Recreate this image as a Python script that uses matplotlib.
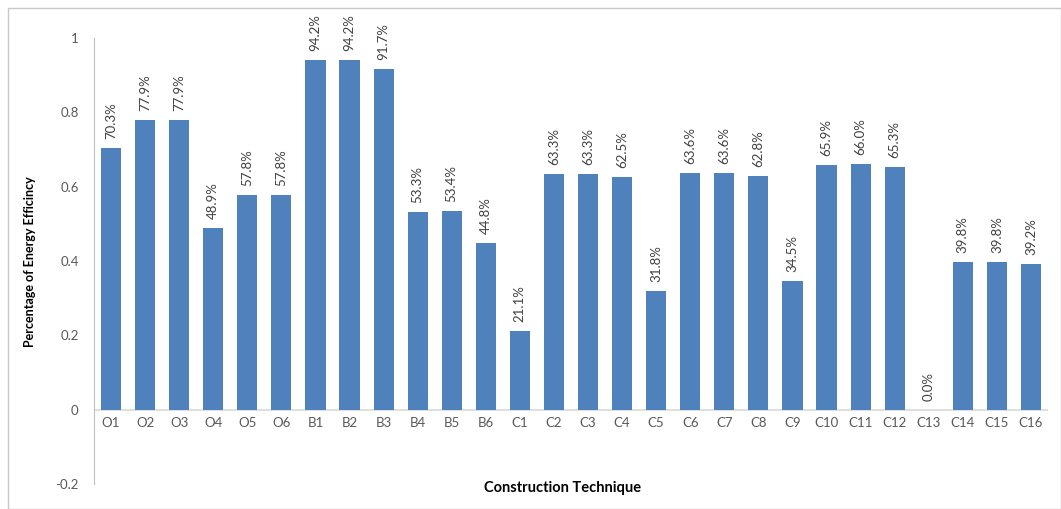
import matplotlib
matplotlib.use("Agg")
import matplotlib.pyplot as plt
from matplotlib.patches import Rectangle

categories = ["O1", "O2", "O3", "O4", "O5", "O6",
              "B1", "B2", "B3", "B4", "B5", "B6",
              "C1", "C2", "C3", "C4", "C5", "C6", "C7", "C8",
              "C9", "C10", "C11", "C12", "C13", "C14", "C15", "C16"]
values = [0.703, 0.779, 0.779, 0.489, 0.578, 0.578,
          0.942, 0.942, 0.917, 0.533, 0.534, 0.448,
          0.211, 0.633, 0.633, 0.625, 0.318, 0.636, 0.636, 0.628,
          0.345, 0.659, 0.660, 0.653, 0.000, 0.398, 0.398, 0.392]
yticks = [-0.2, 0, 0.2, 0.4, 0.6, 0.8, 1]
ytick_labels = ["-0.2", "0", "0.2", "0.4", "0.6", "0.8", "1"]

plt.rcParams['font.family'] = ['Lato', 'DejaVu Sans']

fig = plt.figure(figsize=(10.61, 5.09), dpi=100)
ax = fig.add_axes([94 / 1061, 1 - 484 / 509, (1048 - 94) / 1061, (484 - 38) / 509])

x = list(range(len(categories)))
ax.bar(x, values, width=0.59, color="#4f81bd", zorder=2)
for xi, v in zip(x, values):
    ax.annotate(f"{v*100:.1f}%", (xi, v), xytext=(0, 6.5), textcoords="offset points",
                rotation=90, ha="center", va="bottom", fontsize=9.5, color="#404040")

ax.set_xlim(-0.5, len(categories) - 0.5)
ax.set_ylim(-0.2, 1.0)
ax.set_yticks(yticks)
ax.set_yticklabels(ytick_labels, fontsize=9.5, color="#595959")
ax.set_xticks([])
for xi, c in zip(x, categories):
    ax.text(xi, -0.035, c, ha="center", va="center", fontsize=9.5, color="#595959")

for s in ["top", "right", "bottom"]:
    ax.spines[s].set_visible(False)
ax.spines["left"].set_color("#bfbfbf")
ax.axhline(0, color="#d9d9d9", lw=1.2, zorder=1)
ax.tick_params(axis="y", length=0, pad=11)

fig.text(30 / 1061, 1 - 262 / 509, "Percentage of Energy Efficincy", rotation=90,
         ha="center", va="center", fontsize=9, fontweight="bold", color="#000000")
fig.text(563 / 1061, 1 - 488 / 509, "Construction Technique",
         ha="center", va="center", fontsize=10.5, fontweight="bold", color="#000000")

fig.patches.append(Rectangle((8 / 1061, 0), 1 - 8 / 1061, 1 - 8 / 509,
                             transform=fig.transFigure, fill=False,
                             edgecolor="#c8c8c8", lw=1))

fig.savefig("out.png", dpi=100)
